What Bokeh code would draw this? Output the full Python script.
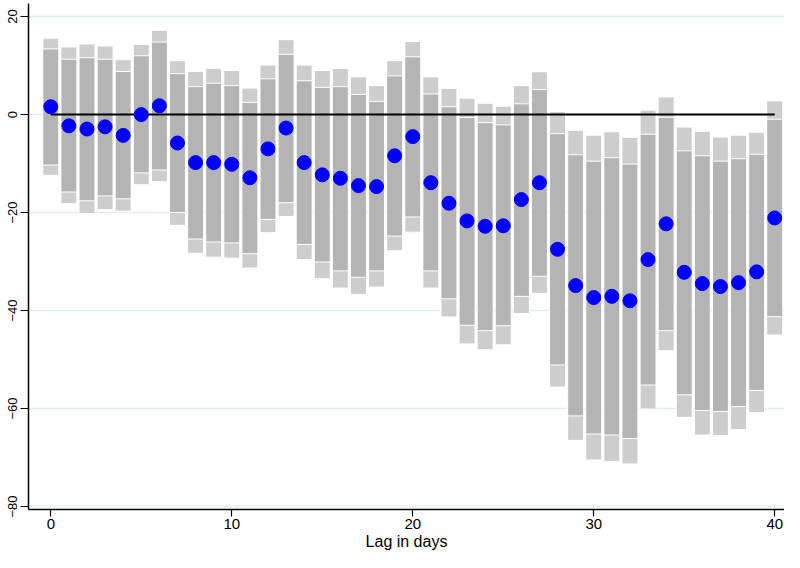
from bokeh.plotting import figure
from bokeh.models import ColumnDataSource, FixedTicker, Range1d
from bokeh.embed import file_html
from bokeh.resources import INLINE

lag = list(range(41))
estimate = [1.6, -2.3, -2.95, -2.5, -4.25, 0.0, 1.8, -5.8, -9.8, -9.8,
            -10.15, -12.9, -7.0, -2.75, -9.8, -12.3, -13.0, -14.5, -14.7, -8.4,
            -4.5, -13.9, -18.1, -21.7, -22.8, -22.7, -17.35, -13.9, -27.5, -34.9,
            -37.35, -37.1, -38.0, -29.6, -22.3, -32.2, -34.5, -35.1, -34.3, -32.1,
            -21.1]
inner_hi = [13.4, 11.3, 11.6, 11.3, 8.8, 12.0, 14.8, 8.35, 5.7, 6.4,
            5.9, 2.5, 7.3, 12.3, 6.9, 5.55, 5.7, 4.1, 2.7, 7.9,
            11.8, 4.2, 1.6, -0.6, -1.65, -2.1, 2.2, 5.1, -3.9, -8.2,
            -9.5, -8.8, -10.1, -4.0, -0.55, -7.4, -8.4, -9.5, -9.0, -8.1,
            -0.95]
inner_lo = [-10.3, -15.8, -17.6, -16.6, -17.2, -11.9, -11.3, -20.0, -25.4, -26.0,
            -26.2, -28.4, -21.4, -18.0, -26.5, -30.1, -31.9, -33.2, -31.9, -24.8,
            -20.9, -31.9, -37.6, -43.0, -44.1, -43.1, -37.1, -33.0, -51.1, -61.5,
            -65.2, -65.4, -66.1, -55.2, -44.1, -57.2, -60.4, -60.6, -59.6, -56.3,
            -41.25]
outer_hi = [15.6, 13.8, 14.4, 14.0, 11.2, 14.3, 17.2, 11.0, 8.8, 9.45,
            9.0, 5.4, 10.1, 15.3, 10.1, 9.0, 9.4, 7.7, 5.9, 11.0,
            14.9, 7.7, 5.35, 3.35, 2.3, 1.7, 5.9, 8.75, 0.6, -3.2,
            -4.2, -3.5, -4.65, 0.9, 3.6, -2.55, -3.4, -4.6, -4.2, -3.6,
            2.8]
outer_lo = [-12.4, -18.2, -20.2, -19.4, -19.7, -14.3, -13.7, -22.6, -28.3, -29.1,
            -29.3, -31.3, -24.1, -20.8, -29.6, -33.5, -35.4, -36.7, -35.2, -27.8,
            -24.0, -35.4, -41.3, -46.8, -48.0, -47.0, -40.6, -36.5, -55.6, -66.5,
            -70.5, -70.8, -71.3, -60.1, -48.2, -61.8, -65.4, -65.5, -64.3, -60.8,
            -45.0]
zero_x = [0, 40]
zero_y = [0, 0]
x_ticks = [0, 10, 20, 30, 40]
y_ticks = [-80, -60, -40, -20, 0, 20]

src = ColumnDataSource(dict(lag=lag, est=estimate, ihi=inner_hi, ilo=inner_lo,
                            ohi=outer_hi, olo=outer_lo))

p = figure(width=784, height=552, output_backend="svg", toolbar_location=None,
           x_range=Range1d(-1.232, 40.54), y_range=Range1d(-80.6, 22.67),
           min_border_top=3, min_border_right=0, min_border_left=28, min_border_bottom=0)
p.outline_line_color = None
p.background_fill_color = "white"

p.vbar(x="lag", bottom="olo", top="ohi", width=0.88, source=src,
       fill_color="#cdcdcd", line_color="white", line_width=1)
p.vbar(x="lag", bottom="ilo", top="ihi", width=0.88, source=src,
       fill_color="#b4b4b4", line_color="white", line_width=1)
p.line(zero_x, zero_y, line_color="black", line_width=2)
p.scatter(x="lag", y="est", source=src, size=14, marker="circle",
          fill_color="#0000ff", line_color="#0000ff")

p.xgrid.grid_line_color = None
p.ygrid.grid_line_color = "#e4eef0"
p.ygrid.grid_line_width = 1.5

p.xaxis.ticker = FixedTicker(ticks=x_ticks)
p.yaxis.ticker = FixedTicker(ticks=y_ticks)
p.xaxis.axis_label = "Lag in days"
for ax in (p.xaxis, p.yaxis):
    ax.axis_line_color = "black"
    ax.axis_line_width = 1.5
    ax.major_tick_line_color = "black"
    ax.major_tick_line_width = 1.2
    ax.major_tick_in = 0
    ax.minor_tick_line_color = None
    ax.major_label_text_font = "Liberation Sans"
    ax.major_label_text_color = "black"
    ax.axis_label_text_font = "Liberation Sans"
    ax.axis_label_text_font_style = "normal"
    ax.axis_label_text_color = "black"
p.xaxis.major_tick_out = 7
p.yaxis.major_tick_out = 8
p.xaxis.major_label_text_font_size = "15px"
p.yaxis.major_label_text_font_size = "13px"
p.yaxis.major_label_orientation = "vertical"
p.yaxis.major_label_standoff = 3
p.xaxis.axis_label_text_font_size = "16px"
p.xaxis.axis_label_standoff = 1
p.xaxis.major_label_standoff = 2

open("out.html", "w").write(file_html(p, INLINE))
